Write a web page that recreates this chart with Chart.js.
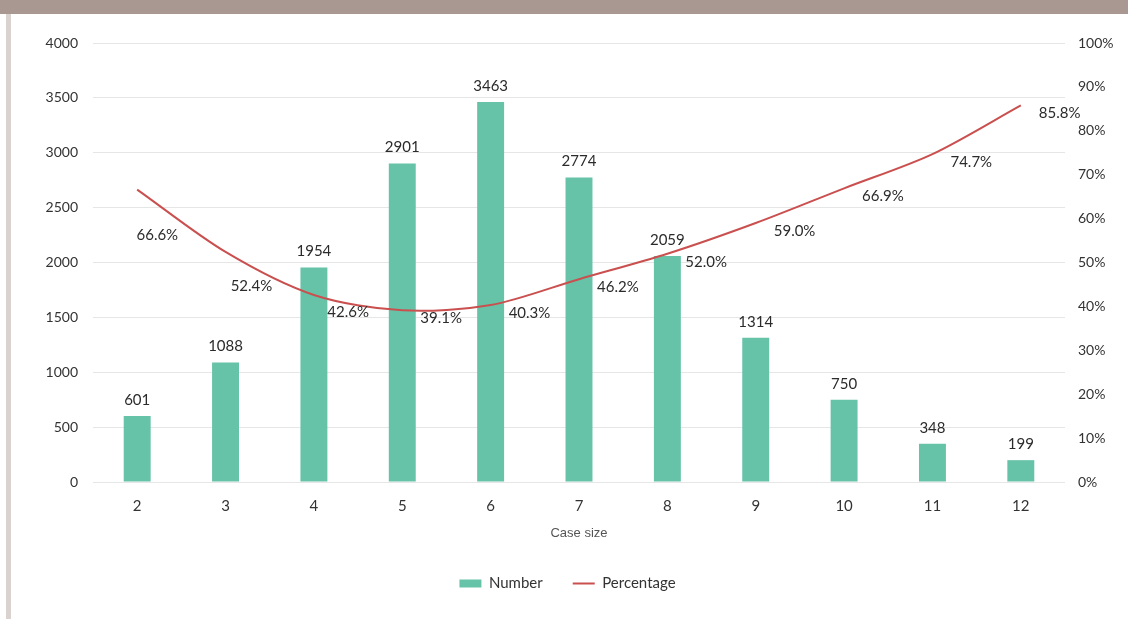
<!DOCTYPE html>
<html>
<head>
<meta charset="utf-8">
<script src="https://cdn.jsdelivr.net/npm/chart.js@4/dist/chart.umd.min.js"></script>
<style>
    html, body { margin: 0; padding: 0; background: #ffffff; }
    #wrap { position: relative; width: 1128px; height: 619px; overflow: hidden; }
    #topBand { position: absolute; left: 0; top: 0; width: 1128px; height: 14px; background: #a89891; }
    #leftBand { position: absolute; left: 6px; top: 14px; width: 5px; height: 605px; background: #d9d2ce; }
    #myChart { position: absolute; left: 0; top: 0; }
</style>
</head>
<body>
<div id="wrap">
    <div id="topBand"></div>
    <div id="leftBand"></div>
    <canvas id="myChart" width="1128" height="619"></canvas>
</div>
<script>
const caseSizes = ["2", "3", "4", "5", "6", "7", "8", "9", "10", "11", "12"];
const numbers = [601, 1088, 1954, 2901, 3463, 2774, 2059, 1314, 750, 348, 199];
const percentages = [66.6, 52.4, 42.6, 39.1, 40.3, 46.2, 52.0, 59.0, 66.9, 74.7, 85.8];

const textColor = "#333333";
const fontFamily = "Lato, 'Open Sans', sans-serif";

// value labels above bars and beside the line points
const valueLabels = {
    id: "valueLabels",
    afterDatasetsDraw(chart) {
        const ctx = chart.ctx;
        ctx.save();
        ctx.font = "15px " + fontFamily;
        ctx.fillStyle = "#2b2b2b";
        ctx.textBaseline = "middle";

        const bars = chart.getDatasetMeta(0).data;
        ctx.textAlign = "center";
        bars.forEach((bar, i) => {
            ctx.fillText(String(numbers[i]), bar.x, bar.y - 16);
        });

        // percentage labels sit right of the line, pushed further down where it falls
        const pts = chart.getDatasetMeta(1).data;
        ctx.textAlign = "left";
        pts.forEach((p, i) => {
            const next = pts[i + 1];
            const drop = next ? Math.max(0, next.y - p.y) : 0;
            const x = p.x + 18 - drop * 0.3;
            const y = p.y + 8 + drop * 0.6;
            ctx.fillText(percentages[i].toFixed(1) + "%", x, y);
        });
        ctx.restore();
    }
};

const ctx = document.getElementById("myChart");

new Chart(ctx, {
    data: {
        labels: caseSizes,
        datasets: [
            {
                type: "bar",
                label: "Number",
                data: numbers,
                yAxisID: "y",
                backgroundColor: "#67c3a8",
                barPercentage: 0.305,
                categoryPercentage: 1,
                pointStyle: "rect",
                order: 2
            },
            {
                type: "line",
                label: "Percentage",
                data: percentages,
                yAxisID: "y1",
                borderColor: "#c9504f",
                backgroundColor: "#c9504f",
                borderWidth: 2,
                pointRadius: 0,
                tension: 0.3,
                fill: false,
                pointStyle: "line",
                order: 1
            }
        ]
    },
    options: {
        responsive: false,
        animation: false,
        layout: {
            padding: { left: 20, right: 13, top: 43, bottom: 18 }
        },
        plugins: {
            legend: {
                position: "bottom",
                labels: {
                    usePointStyle: true,
                    pointStyleWidth: 22,
                    boxHeight: 8,
                    padding: 30,
                    color: textColor,
                    font: { family: fontFamily, size: 15 },
                    sort: (a, b) => a.datasetIndex - b.datasetIndex
                }
            },
            tooltip: { enabled: false }
        },
        scales: {
            x: {
                grid: { display: false, drawTicks: false },
                border: { display: false },
                ticks: {
                    color: textColor,
                    padding: 15,
                    font: { family: fontFamily, size: 15 }
                },
                title: {
                    display: true,
                    text: "Case size",
                    color: "#555555",
                    padding: { top: 4, bottom: 5 },
                    font: { family: "'Liberation Sans', Arial, sans-serif", size: 13 }
                },
                afterFit(scale) { scale.height = 64; }
            },
            y: {
                position: "left",
                min: 0,
                max: 4000,
                grid: { color: "#e6e6e6", drawTicks: false },
                border: { display: false },
                ticks: {
                    stepSize: 500,
                    color: textColor,
                    padding: 15,
                    font: { family: fontFamily, size: 14 },
                    callback: value => String(value)
                },
                afterFit(scale) { scale.width = 73; }
            },
            y1: {
                position: "right",
                min: 0,
                max: 100,
                grid: { display: false, drawTicks: false },
                border: { display: false },
                ticks: {
                    stepSize: 10,
                    color: textColor,
                    padding: 13,
                    font: { family: fontFamily, size: 14 },
                    callback: value => value + "%"
                },
                afterFit(scale) { scale.width = 50; }
            }
        }
    },
    plugins: [valueLabels]
});
</script>
</body>
</html>
